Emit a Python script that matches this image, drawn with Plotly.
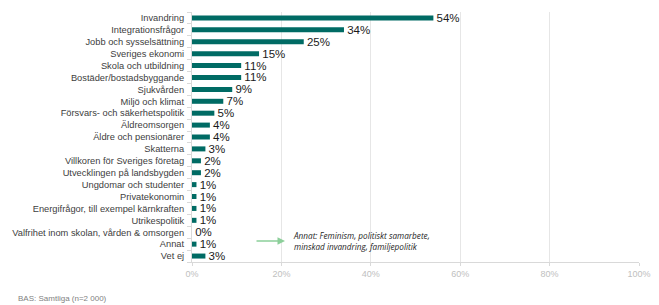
import plotly.graph_objects as go

categories = [
    "Invandring", "Integrationsfrågor", "Jobb och sysselsättning", "Sveriges ekonomi",
    "Skola och utbildning", "Bostäder/bostadsbyggande", "Sjukvården", "Miljö och klimat",
    "Försvars- och säkerhetspolitik", "Äldreomsorgen", "Äldre och pensionärer", "Skatterna",
    "Villkoren för Sveriges företag", "Utvecklingen på landsbygden", "Ungdomar och studenter",
    "Privatekonomin", "Energifrågor, till exempel kärnkraften", "Utrikespolitik",
    "Valfrihet inom skolan, vården & omsorgen", "Annat", "Vet ej",
]
values = [54, 34, 25, 15, 11, 11, 9, 7, 5, 4, 4, 3, 2, 2, 1, 1, 1, 1, 0, 1, 3]
tick_vals = [0, 20, 40, 60, 80, 100]
tick_text = ["0%", "20%", "40%", "60%", "80%", "100%"]
annat_note = "<i>Annat: Feminism, politiskt samarbete,<br>minskad invandring, familjepolitik</i>"
footer = "BAS: Samtliga (n=2 000)"

# page body has an 8px default margin, so the figure is drawn 8px smaller
W, H = 651, 297
ML, MR, MT, MB = 184, 20, 4, 43
PW, PH = W - ML - MR, H - MT - MB

fig = go.Figure(go.Bar(
    x=values, y=categories, orientation="h",
    marker=dict(color="#006B64", line=dict(width=0)),
    width=0.42,
    text=[f"\u00a0{v}%" for v in values], textposition="outside",
    constraintext="none", cliponaxis=False,
    textfont=dict(family="Liberation Sans, Arial", size=11.5, color="#1a1a1a"),
))

fig.update_layout(
    width=W, height=H,
    margin=dict(l=ML, r=MR, t=MT, b=MB),
    plot_bgcolor="white", paper_bgcolor="white",
    showlegend=False,
    font=dict(family="Liberation Sans, Arial", color="#404040"),
    xaxis=dict(
        range=[0, 100], tickvals=tick_vals, ticktext=tick_text,
        showgrid=True, gridcolor="#e6e6e6", gridwidth=1,
        showline=True, linecolor="#d9d9d9", linewidth=1,
        ticks="outside", ticklen=3, tickcolor="#d9d9d9",
        tickfont=dict(size=9, color="#c0c0c0"), zeroline=False,
        automargin=False,
    ),
    yaxis=dict(
        autorange="reversed", categoryorder="array", categoryarray=categories,
        tickmode="array", tickvals=categories,
        showline=True, linecolor="#d9d9d9", linewidth=1,
        ticks="outside", ticklen=4, tickcolor="#d9d9d9", tickson="boundaries",
        tickfont=dict(family="Liberation Sans Narrow, Arial Narrow, Liberation Sans", size=9.3, color="#404040"),
        showgrid=False, automargin=False, ticklabelstandoff=5,
    ),
    annotations=[
        dict(x=(285 - 8 - ML) / PW, y=(254 - 233) / PH, xref="paper", yref="paper", ax=-30, ay=0,
             axref="pixel", ayref="pixel", showarrow=True, arrowhead=2,
             arrowsize=1, arrowwidth=1.5, arrowcolor="#8ccf9a", text=""),
        dict(x=(291 - 8 - ML) / PW, y=(254 - 233) / PH, xref="paper", yref="paper", xanchor="left", yanchor="middle",
             align="left", showarrow=False, text=annat_note,
             font=dict(family="Open Sans, Liberation Sans", size=8.2, color="#262626")),
        dict(x=(8 - ML) / PW, y=-(290 - 254) / PH, xref="paper", yref="paper",
             xanchor="left", yanchor="middle", text=footer, showarrow=False,
             font=dict(size=8, color="#7f7f7f")),
    ],
)

fig.write_html("out.html")
